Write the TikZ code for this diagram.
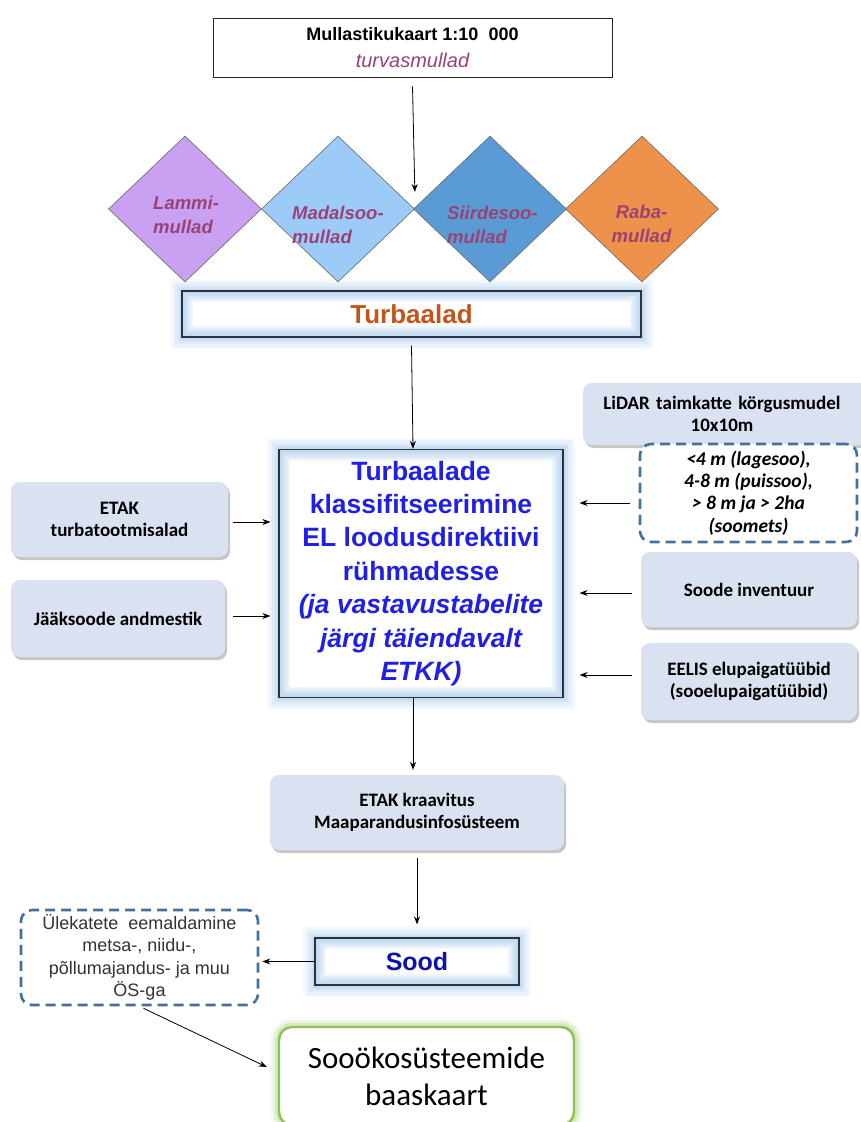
\documentclass[tikz,border=0pt]{standalone}
\usepackage{fontspec}
\setmainfont{Liberation Sans}
\newfontfamily\calib{Carlito}
\usetikzlibrary{shapes.geometric,arrows.meta,shadows,calc}
\definecolor{boxfill}{HTML}{DAE1F0}
\definecolor{glowc}{HTML}{8DB8E2}
\definecolor{edgec}{HTML}{2A3440}
\definecolor{dashc}{HTML}{41719C}
\definecolor{soilc}{HTML}{9A4275}
\definecolor{turbc}{HTML}{C0561C}
\definecolor{clsc}{HTML}{1F1FE6}
\definecolor{soodc}{HTML}{1010B0}
\definecolor{greenc}{HTML}{8CC152}
\definecolor{lammic}{HTML}{C9A0F2}
\definecolor{madalc}{HTML}{9DCBF8}
\definecolor{siirdc}{HTML}{5B9BD5}
\definecolor{rabac}{HTML}{EE914A}
\tikzset{
  arr/.style={-{Stealth[length=8pt,width=6pt]}, line width=0.8pt},
  infobox/.style={rectangle, rounded corners=9pt, fill=boxfill, inner sep=0pt,
    align=center, font=\calib\bfseries\fontsize{19}{22}\selectfont,
    drop shadow={shadow xshift=2pt, shadow yshift=-3pt, fill=black!50, opacity=.45}},
  % soft halo inside the frame, clipped to the box
  innerglow/.style={path picture={
      \foreach \w in {22,18,14,10,6}
        \draw[#1, line width=\w pt, opacity=.13]
          (path picture bounding box.south west) rectangle (path picture bounding box.north east);}},
  glowbox/.style={rectangle, draw=edgec, line width=1.2pt, fill=white, inner sep=0pt,
    align=center,
    preaction={draw=glowc, line width=24pt, opacity=.08},
    preaction={draw=glowc, line width=19pt, opacity=.1},
    preaction={draw=glowc, line width=14pt, opacity=.12},
    preaction={draw=glowc, line width=9pt, opacity=.15},
    preaction={draw=glowc, line width=5pt, opacity=.2},
    innerglow=glowc},
  dashbox/.style={rectangle, draw=dashc, line width=2.6pt, dash pattern=on 10pt off 6pt,
    rounded corners=11pt, fill=white, inner sep=0pt, align=center},
  soil/.style={diamond, draw=black!55, line width=0.7pt, inner sep=0pt, aspect=1,
    minimum width=153pt, minimum height=146pt},
  soiltext/.style={font=\bfseries\itshape\fontsize{18.5}{24}\selectfont, text=soilc, inner sep=0pt}
}
\begin{document}
\begin{tikzpicture}[x=1pt,y=-1pt]
\useasboundingbox (0,0) rectangle (861,1122);
\begin{scope}
\clip (0,0) rectangle (861,1122);

% source map
\node[draw=black!85, line width=0.8pt, fill=white, minimum width=399pt, minimum height=59pt,
  align=center, inner sep=0pt, font=\fontsize{18}{27}\selectfont] (top) at (412.5,47.5)
  {\bfseries Mullastikukaart 1:10\ \ 000\\
   \itshape\fontsize{20}{27}\selectfont\color{soilc}turvasmullad};

% peat soil types
\node[soil, fill=lammic] (d1) at (185,209) {};
\node[soil, fill=madalc] (d2) at (338,209) {};
\node[soil, fill=siirdc] (d3) at (490,209) {};
\node[soil, fill=rabac]  (d4) at (642,209) {};
\node[soiltext, align=left, anchor=west] (t1) at (153,215) {Lammi-\\mullad};
\node[soiltext, align=left, anchor=west] (t2) at (292,225) {Madalsoo-\\mullad};
\node[soiltext, align=left, anchor=west] (t3) at (447,225) {Siirdesoo-\\mullad};
\node[soiltext, align=center] (t4) at (641.5,224) {Raba-\\mullad};

% peatlands
\node[glowbox, minimum width=459pt, minimum height=46pt,
  font=\bfseries\fontsize{26}{30}\selectfont, text=turbc] (turb) at (411.5,314) {Turbaalad};

% classification
\node[glowbox, minimum width=284pt, minimum height=248pt, text=clsc,
  font=\bfseries\fontsize{26.5}{33.4}\selectfont] (cls) at (421,573.5)
  {Turbaalade\\klassifitseerimine\\EL loodusdirektiivi\\rühmadesse\\
   \itshape(ja vastavustabelite\\\itshape järgi täiendavalt\\\itshape ETKK)};

% left inputs
\node[infobox, minimum width=217pt, minimum height=75pt] (etak) at (119.5,519.5)
  {ETAK\\turbatootmisalad};
\node[infobox, minimum width=214pt, minimum height=77pt] (jaak) at (118,618.5)
  {Jääksoode andmestik};

% right inputs
\node[infobox, minimum width=290pt, minimum height=62pt, text width=278pt] (lidar) at (728,414)
  {\hspace*{-12pt}LiDAR taimkatte körgusmudel\\\hspace*{-12pt}10x10m};
\node[dashbox, minimum width=217pt, minimum height=98pt,
  font=\calib\bfseries\itshape\fontsize{19.5}{22.3}\selectfont] (hgt) at (748.5,493)
  {<4 m (lagesoo),\\4-8 m (puissoo),\\> 8 m ja > 2ha\\(soomets)};
\node[infobox, minimum width=216pt, minimum height=75pt] (inv) at (749,589.5)
  {Soode inventuur};
\node[infobox, minimum width=216pt, minimum height=77pt] (eelis) at (749,681.5)
  {EELIS elupaigatüübid\\(sooelupaigatüübid)};

% drainage
\node[infobox, minimum width=294pt, minimum height=75pt] (kra) at (417,812.5)
  {ETAK kraavitus\\Maaparandusinfosüsteem};

% mires
\node[glowbox, minimum width=204pt, minimum height=47pt, text=soodc,
  font=\bfseries\fontsize{25}{30}\selectfont] (sood) at (417,961.5) {Sood};

% overlap removal
\node[dashbox, minimum width=237pt, minimum height=95pt, text=black!80,
  font=\fontsize{18}{22.5}\selectfont] (ovr) at (139.5,957.5)
  {Ülekatete\ \ eemaldamine\\metsa-, niidu-,\\põllumajandus- ja muu\\ÖS-ga};

% base map
\node[rectangle, rounded corners=13pt, draw=greenc, line width=2.4pt, fill=white,
  minimum width=295pt, minimum height=98pt, align=center, inner sep=0pt,
  preaction={draw=greenc, line width=18pt, opacity=.08},
  preaction={draw=greenc, line width=13pt, opacity=.12},
  preaction={draw=greenc, line width=8pt, opacity=.2},
  font=\calib\fontsize{31}{37}\selectfont] (fin) at (426.5,1076)
  {Sooökosüsteemide\\baaskaart};

% connectors
\draw[arr] ($(top.south)+(0,9)$) -- ([yshift=17pt]d2.east);
\draw[arr] ($(turb.south)+(0,8)$) -- ($(cls.north)+(-8,0)$);
\draw[arr] ($(etak.east)+(5,2.5)$) -- ($(cls.west |- etak.east)+(-8,2.5)$);
\draw[arr] ($(jaak.east)+(8,-2.5)$) -- ($(cls.west |- jaak.east)+(-8,-2.5)$);
\draw[arr] ($(hgt.west)+(-9,10)$) -- ($(cls.east |- hgt.west)+(16,10)$);
\draw[arr] ($(inv.west)+(-9,3.5)$) -- ($(cls.east |- inv.west)+(16,3.5)$);
\draw[arr] ($(eelis.west)+(-9,-6.5)$) -- ($(cls.east |- eelis.west)+(16,-6.5)$);
\draw[arr] ($(cls.south)+(-8,0)$) -- ($(kra.north)+(-4,-5)$);
\draw[arr] ($(kra.south)+(0,8)$) -- ($(sood.north)+(0,-13)$);
\draw[arr] (sood.west) -- ($(ovr.east |- sood.west)+(3,0)$);
\draw[arr] ($(ovr.south)+(4,2)$) -- ($(fin.west)+(-11,-9)$);
\end{scope}
\end{tikzpicture}
\end{document}
